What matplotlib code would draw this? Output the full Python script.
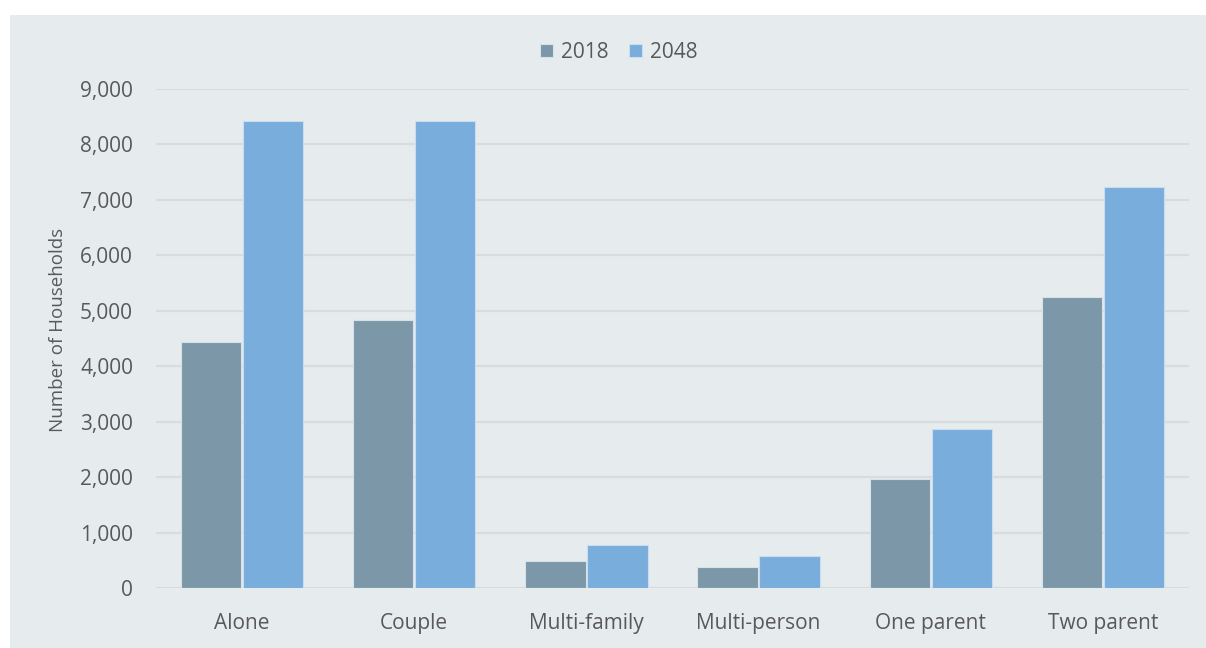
import matplotlib.pyplot as plt
import matplotlib.patches as mpatches
import numpy as np
from matplotlib.ticker import FuncFormatter

categories = ["Alone", "Couple", "Multi-family", "Multi-person", "One parent", "Two parent"]
values_2018 = [4440, 4830, 490, 390, 1965, 5255]
values_2048 = [8420, 8420, 780, 580, 2865, 7225]
series_labels = ["2018", "2048"]
y_ticks = [0, 1000, 2000, 3000, 4000, 5000, 6000, 7000, 8000, 9000]

plt.rcParams['font.family'] = ['Open Sans', 'DejaVu Sans']
text_color = "#595959"
bg_color = "#E6EBEE"
c2018 = "#7C98A8"
c2048 = "#79ADDB"

fig = plt.figure(figsize=(12.06, 6.48), dpi=100)
fig.patch.set_facecolor("white")
# panel background behind the chart
fig.patches.append(mpatches.Rectangle((10 / 1206, 0), 1.0, 1 - 15 / 648,
                                      transform=fig.transFigure, facecolor=bg_color,
                                      edgecolor="none", zorder=-10))

ax = fig.add_axes([156 / 1206, 1 - 588.3 / 648, (1189 - 156) / 1206, (588.3 - 88.8) / 648])
ax.set_facecolor("none")
ax.set_zorder(1)

x = np.arange(len(categories))
w = 0.35
ax.bar(x - w / 2 - 0.005, values_2018, w, color=c2018, edgecolor="#D6E2EA",
       linewidth=0.8, zorder=3, label=series_labels[0])
ax.bar(x + w / 2 + 0.005, values_2048, w, color=c2048, edgecolor="#C8DDF0",
       linewidth=0.8, zorder=3, label=series_labels[1])

ax.set_xlim(-0.5, len(categories) - 0.5)
ax.set_ylim(0, 9000)
ax.set_yticks(y_ticks)
ax.yaxis.set_major_formatter(FuncFormatter(lambda v, p: f"{int(v):,}"))
ax.grid(axis="y", color="#CFD2D4", linewidth=1.6, zorder=4, alpha=0.6)
ax.set_axisbelow(False)
for s in ax.spines.values():
    s.set_visible(False)
ax.tick_params(axis="both", length=0, colors=text_color, labelsize=15)
ax.tick_params(axis="y", pad=16.5)
ax.tick_params(axis="x", pad=18)
ax.set_xticks(x)
ax.set_xticklabels(categories)
ax.set_ylabel("Number of Households", color=text_color, fontsize=13.5)
ax.yaxis.set_label_coords(-0.086, 0.517)

leg = fig.legend(*ax.get_legend_handles_labels(), loc="center",
                 bbox_to_anchor=(619 / 1206, 1 - 52 / 648), ncol=2, frameon=False,
                 fontsize=15, handlelength=0.6, handleheight=0.6, handletextpad=0.4,
                 columnspacing=1.0, labelcolor=text_color)

fig.savefig("out.png", dpi=100, facecolor=fig.get_facecolor())
